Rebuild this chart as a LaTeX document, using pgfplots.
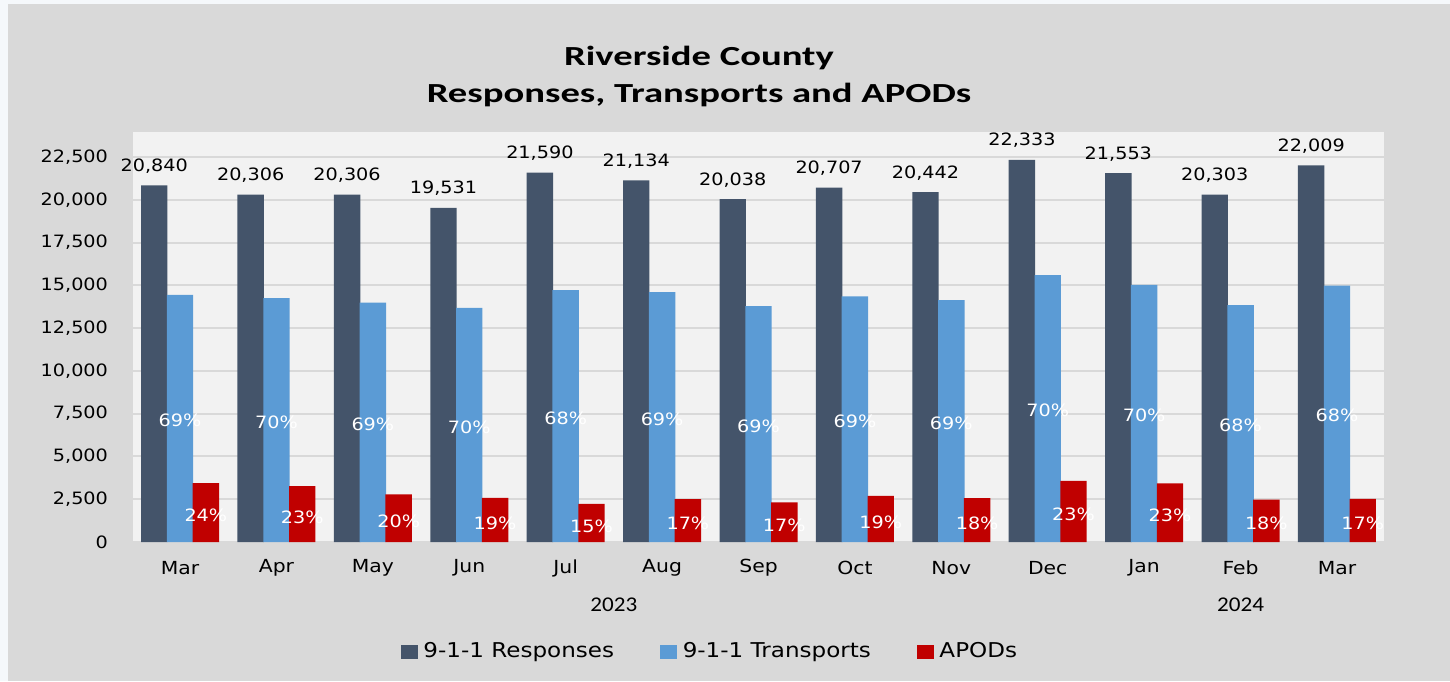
\documentclass[border=0pt]{standalone}
\usepackage{fontspec}
\usepackage{pgfplots}
\usepackage{pgfplotstable}
\pgfplotsset{compat=1.18}
\setmainfont{DejaVu Sans}[FakeStretch=1.13]
\newfontfamily\titlefont{Carlito}[FakeStretch=1.4]
\newfontfamily\yearfont{Carlito}[FakeStretch=1.1]

\definecolor{outerbg}{HTML}{F5F8FB}
\definecolor{panel}{HTML}{D9D9D9}
\definecolor{plotbg}{HTML}{F2F2F2}
\definecolor{gridc}{HTML}{D9D9D9}
\definecolor{resp}{HTML}{44546A}
\definecolor{trans}{HTML}{5B9BD5}
\definecolor{apod}{HTML}{C00000}

% x = month index; tlab, alab = shares shown in the bars
\pgfplotstableread{
x  resp  rlab    trans tlab apod alab
0  20840 20,840  14450 69   3440 24
1  20306 20,306  14250 70   3260 23
2  20306 20,306  13990 69   2780 20
3  19531 19,531  13680 70   2580 19
4  21590 21,590  14720 68   2230 15
5  21134 21,134  14600 69   2500 17
6  20038 20,038  13780 69   2320 17
7  20707 20,707  14350 69   2700 19
8  20442 20,442  14130 69   2560 18
9  22333 22,333  15600 70   3580 23
10 21553 21,553  15030 70   3420 23
11 20303 20,303  13840 68   2480 18
12 22009 22,009  14990 68   2520 17
}\data

\begin{document}
\begin{tikzpicture}
\fill[outerbg] (0,0) rectangle (725pt,-340.5pt);
\fill[panel] (4pt,-2pt) rectangle (725pt,-340.5pt);

\node[font=\titlefont\bfseries\fontsize{13.8}{18.5}\selectfont, align=center]
  at (349.5pt,-38pt) {Riverside County\\Responses, Transports and APODs};

\begin{axis}[
  at={(66.5pt,-271pt)}, anchor=south west,
  scale only axis, width=625.5pt, height=205pt,
  axis background/.style={fill=plotbg},
  axis line style={draw=none},
  major tick length=0pt,
  ybar, bar width=13.2pt,
  xmin=-0.488, xmax=12.488,
  ymin=0, ymax=23961,
  ytick={0,2500,...,22500},
  ymajorgrids, grid style={gridc, line width=1pt},
  xtick={0,...,12},
  xticklabels={Mar,Apr,May,Jun,Jul,Aug,Sep,Oct,Nov,Dec,Jan,Feb,Mar},
  xticklabel style={font=\fontsize{9}{10}\selectfont, anchor=center, yshift=-13pt},
  yticklabel style={font=\fontsize{8.5}{10}\selectfont, xshift=-9pt},
  /pgf/number format/.cd, 1000 sep={,}, assume math mode=true, /pgfplots/.cd,
  scaled y ticks=false,
  legend columns=3,
  legend style={draw=none, fill=none, at={(0.462,-0.268)}, anchor=center,
    font=\fontsize{10.2}{12}\selectfont,
    /tikz/every odd column/.append style={column sep=0.8pt},
    /tikz/every even column/.append style={column sep=21pt},
    nodes={inner sep=2pt}},
  legend image code/.code={\fill[#1] (0pt,-3.5pt) rectangle (8.5pt,3.5pt);},
  clip=false,
]
\addlegendimage{fill=resp, draw=none}
\addlegendentry{9-1-1 Responses}
\addlegendimage{fill=trans, draw=none}
\addlegendentry{9-1-1 Transports}
\addlegendimage{fill=apod, draw=none}
\addlegendentry{APODs}

\addplot[forget plot, fill=resp, draw=none, bar shift=-12.9pt,
  point meta=explicit symbolic,
  nodes near coords,
  every node near coord/.append style={font=\fontsize{8.5}{10}\selectfont, text=black, yshift=2.5pt}]
  table[x=x, y=resp, meta=rlab] {\data};

\addplot[forget plot, fill=trans, draw=none, bar shift=0pt,
  point meta=explicit symbolic,
  visualization depends on={rawy \as \rawyv},
  nodes near coords={\pgfplotspointmeta\%},
  nodes near coords align=center,
  every node near coord/.append style={font=\fontsize{8.5}{10}\selectfont, text=white,
    anchor=center, shift={(axis direction cs:0,-\rawyv/2)}, yshift=-1pt}]
  table[x=x, y=trans, meta=tlab] {\data};

\addplot[forget plot, fill=apod, draw=none, bar shift=12.9pt,
  point meta=explicit symbolic,
  visualization depends on={rawy \as \rawyv},
  nodes near coords={\pgfplotspointmeta\%},
  nodes near coords align=center,
  every node near coord/.append style={font=\fontsize{8.5}{10}\selectfont, text=white,
    anchor=center, shift={(axis direction cs:0,-\rawyv/2)}, yshift=-1.5pt}]
  table[x=x, y=apod, meta=alab] {\data};

\node[font=\yearfont\fontsize{10.5}{12}\selectfont] at ([yshift=-31.5pt]axis cs:4.5,0) {2023};
\node[font=\yearfont\fontsize{10.5}{12}\selectfont] at ([yshift=-31.5pt]axis cs:11,0) {2024};
\end{axis}
\pgfresetboundingbox
\path[use as bounding box] (0,0) rectangle (725pt,-340.5pt);
\end{tikzpicture}
\end{document}
